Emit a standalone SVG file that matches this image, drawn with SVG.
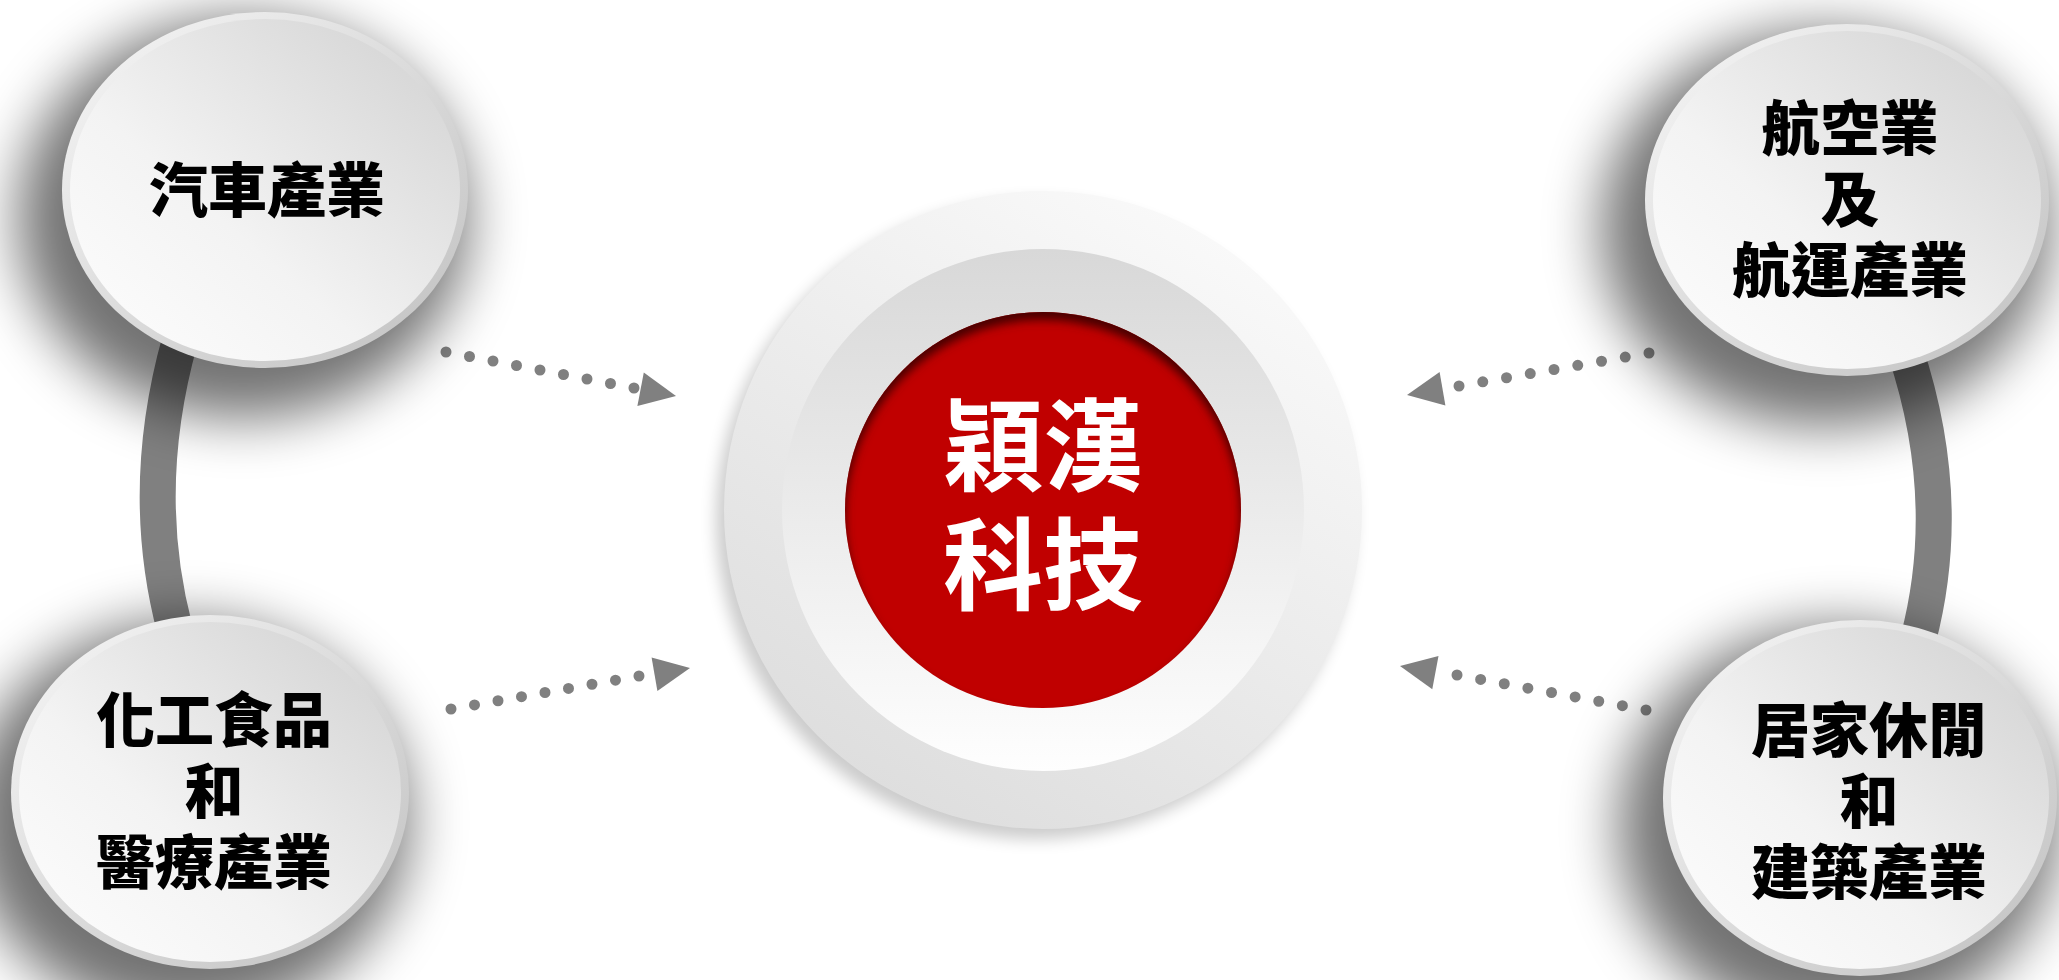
<svg xmlns="http://www.w3.org/2000/svg" width="2059" height="980" viewBox="0 0 2059 980">
<defs>
<style>
.ntext{font-family:"Noto Sans CJK TC","Noto Sans CJK SC",sans-serif;font-weight:900;font-size:59px;fill:#000;text-anchor:middle}
.ctext{font-family:"Noto Sans CJK TC","Noto Sans CJK SC",sans-serif;font-weight:700;font-size:100px;fill:#fff;text-anchor:middle}
.arc{fill:none;stroke:#808080;stroke-width:36}
.dots{fill:none;stroke:#808080;stroke-width:11;stroke-linecap:round;stroke-dasharray:0 1}
.head{fill:#808080}
.rim{fill:url(#rimG)}
.body{fill:url(#bodyG)}
.shadow{fill:#000;opacity:0.55;filter:url(#blur)}
</style>
<linearGradient id="rimG" x1="0" y1="0" x2="1" y2="1"><stop offset="0" stop-color="#f7f7f7"/><stop offset="1" stop-color="#c0c0c0"/></linearGradient>
<linearGradient id="bodyG" x1="1" y1="0" x2="0" y2="1"><stop offset="0" stop-color="#d0d0d0"/><stop offset="0.6" stop-color="#f3f3f3"/><stop offset="1" stop-color="#fefefe"/></linearGradient>
<linearGradient id="outerG" x1="0.8" y1="0" x2="0.2" y2="1"><stop offset="0" stop-color="#fbfbfb"/><stop offset="1" stop-color="#dcdcdc"/></linearGradient>
<linearGradient id="ringG" x1="0" y1="0" x2="0" y2="1"><stop offset="0" stop-color="#d8d8d8"/><stop offset="1" stop-color="#fefefe"/></linearGradient>
<filter id="blur" x="-50%" y="-50%" width="200%" height="200%"><feGaussianBlur stdDeviation="28"/></filter>
<filter id="blurS" x="-20%" y="-20%" width="140%" height="140%"><feGaussianBlur stdDeviation="8"/></filter>
<filter id="blurI" x="-20%" y="-20%" width="140%" height="140%"><feGaussianBlur stdDeviation="5"/></filter>
<clipPath id="redClip"><circle cx="1043" cy="510" r="198"/></clipPath>
</defs>
<rect width="2059" height="980" fill="#fff"/>

<g id="connectors">
<path class="arc" d="M180 340 Q138 490 175 630"/>
<path class="arc" d="M1905 350 Q1955 500 1918 640"/>
<path class="dots" pathLength="8.001" d="M446 352 L634 388"/>
<polygon class="head" points="676,396 643.8,372.5 637.4,405.9"/>
<path class="dots" pathLength="8.001" d="M1649 353 L1459 386"/>
<polygon class="head" points="1407,395 1439.6,372.1 1445.4,405.5"/>
<path class="dots" pathLength="8.001" d="M451 709 L639 676"/>
<polygon class="head" points="690,668 651.6,657.5 657.4,690.9"/>
<path class="dots" pathLength="8.001" d="M1646 710 L1457 675"/>
<polygon class="head" points="1400,666 1438.5,655.9 1432.3,689.3"/>
</g>

<g id="node-auto">
<ellipse class="shadow" cx="243" cy="218" rx="225" ry="200"/>
<ellipse class="rim" cx="265" cy="190" rx="203" ry="178"/>
<ellipse class="body" cx="265" cy="190" rx="195" ry="171"/>
<text class="ntext" x="267" y="212">汽車產業</text>
</g>

<g id="node-chem">
<ellipse class="shadow" cx="188" cy="820" rx="221" ry="199"/>
<ellipse class="rim" cx="210" cy="792" rx="199" ry="177"/>
<ellipse class="body" cx="210" cy="792" rx="191" ry="170"/>
<text class="ntext"><tspan x="214" y="742">化工食品</tspan><tspan x="214" y="813">和</tspan><tspan x="214" y="884">醫療產業</tspan></text>
</g>

<g id="node-aero">
<ellipse class="shadow" cx="1825" cy="228" rx="224" ry="198"/>
<ellipse class="rim" cx="1847" cy="200" rx="202" ry="176"/>
<ellipse class="body" cx="1847" cy="200" rx="194" ry="169"/>
<text class="ntext"><tspan x="1850" y="150">航空業</tspan><tspan x="1850" y="221">及</tspan><tspan x="1850" y="292">航運產業</tspan></text>
</g>

<g id="node-home">
<ellipse class="shadow" cx="1838" cy="826" rx="219" ry="200"/>
<ellipse class="rim" cx="1860" cy="798" rx="197" ry="178"/>
<ellipse class="body" cx="1860" cy="798" rx="189" ry="171"/>
<text class="ntext"><tspan x="1869" y="752">居家休閒</tspan><tspan x="1869" y="823">和</tspan><tspan x="1869" y="894">建築產業</tspan></text>
</g>

<g id="node-center">
<circle cx="1035" cy="520" r="319" fill="#000" opacity="0.2" filter="url(#blurS)"/>
<circle cx="1043" cy="510" r="319" fill="url(#outerG)"/>
<circle cx="1043" cy="510" r="261" fill="url(#ringG)"/>
<circle cx="1043" cy="510" r="198" fill="#c00000"/>
<g clip-path="url(#redClip)">
<circle cx="1043" cy="518" r="208" fill="none" stroke="#4a0000" stroke-width="20" filter="url(#blurI)"/>
</g>
<text class="ctext"><tspan x="1043" y="483">穎漢</tspan><tspan x="1043" y="602">科技</tspan></text>
</g>
</svg>
